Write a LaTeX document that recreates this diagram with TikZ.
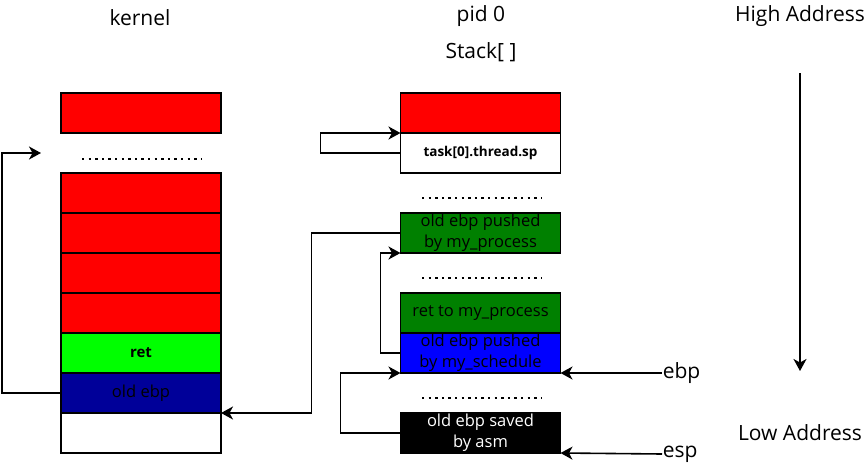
\documentclass[tikz,border=0pt]{standalone}
\usepackage{fontspec}
\setmainfont{Open Sans}
\usetikzlibrary{arrows.meta,positioning}

\begin{document}
\begin{tikzpicture}[->,>={Stealth[length=12pt,width=13pt,inset=3.5pt]},x=1pt,y=-1pt,
line width=1.6pt]
\tikzstyle{cell}=[draw,line width=1.6pt,minimum width=160pt,minimum height=40pt,inner sep=0pt,outer sep=0pt,align=center,font=\fontsize{16.5}{21}\selectfont]
\tikzstyle{lbl}=[font=\fontsize{21}{24}\selectfont,inner sep=0pt]
\tikzstyle{dots}=[-,line width=2.4pt,dash pattern=on 2.4pt off 4.2pt]
\definecolor{kred}{RGB}{255,0,0}
\definecolor{kgreen}{RGB}{0,255,0}
\definecolor{kdark}{RGB}{0,128,0}
\definecolor{knavy}{RGB}{0,0,153}
\definecolor{kblue}{RGB}{0,0,255}

\useasboundingbox (0,0) rectangle (868,466);

% titles
\node[lbl] (kernel) at (140,18) {kernel};
\node[lbl] (pid)    at (481,16) {pid 0};
\node[lbl] (stack)  at (481,52) {Stack[ ]};
\node[lbl] (high)   at (800,16) {High Address};
\node[lbl] (low)    at (800,433) {Low Address};

% kernel stack
\node[cell,fill=kred]   (ktop)  at (141,113) {};
\node[cell,fill=kred]   (k1)    at (141,193) {};
\node[cell,fill=kred]   (k2)    [below=0pt of k1] {};
\node[cell,fill=kred]   (k3)    [below=0pt of k2] {};
\node[cell,fill=kred]   (k4)    [below=0pt of k3] {};
\node[cell,fill=kgreen] (kret)  [below=0pt of k4] {\fontsize{15}{18}\selectfont\bfseries ret};
\node[cell,fill=knavy]  (kold)  [below=0pt of kret] {old ebp};
\node[cell,fill=white]  (kfree) [below=0pt of kold] {};
\coordinate (kd1) at (82,159);
\coordinate (kd2) at (201,159);
\coordinate (kin) at (41,153);

% pid 0 stack
\node[cell,fill=kred]   (ptop) at (480.5,113) {};
\node[cell,fill=white]  (task) [below=0pt of ptop] {\fontsize{13.5}{18}\selectfont\bfseries task[0].thread.sp};
\node[cell,fill=kdark]  (gp)   at (480.5,233) {old ebp pushed\\by my\_process};
\node[cell,fill=kdark]  (gr)   at (480.5,313) {ret to my\_process};
\node[cell,fill=kblue]  (bs)   [below=0pt of gr] {old ebp pushed\\by my\_schedule};
\node[cell,fill=black,text=white] (asm) at (480.5,433) {old ebp saved\\by asm};
\coordinate (pd1) at (422,198);
\coordinate (pd2) at (541,198);
\coordinate (pd3) at (422,278);
\coordinate (pd4) at (541,278);
\coordinate (pd5) at (422,398);
\coordinate (pd6) at (541,398);

\node[lbl,anchor=west] (ebp) at (662,373) {ebp};
\node[lbl,anchor=west] (esp) at (662,454) {esp};

\coordinate (atop) at (800,73);
\coordinate (abot) at (800,371);

% dotted gaps
\draw[dots] (kd1) -- (kd2);
\draw[dots] (pd1) -- (pd2);
\draw[dots] (pd3) -- (pd4);
\draw[dots] (pd5) -- (pd6);

% links
\draw (kold.west) -- ++(-59,0) |- (kin);
\draw (gp.west) -- ++(-89,0) |- (kfree.north east);
\draw (task.west) -- ++(-80,0) |- (task.north west);
\draw (bs.west) -- ++(-20,0) |- (gp.south west);
\draw (asm.west) -- ++(-60,0) |- (bs.south west);
\draw (ebp.west) -- (bs.south east);
\draw (esp.west) -- (asm.south east);
\draw (atop) -- (abot);
\end{tikzpicture}
\end{document}
